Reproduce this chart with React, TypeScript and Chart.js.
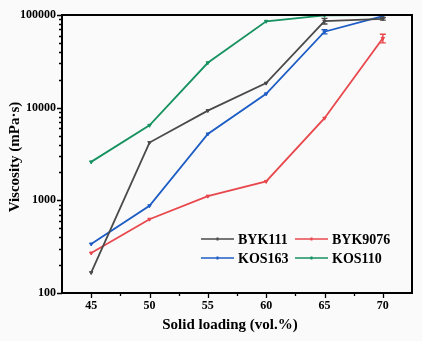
import React, { useEffect, useRef } from "react";
import { Chart, registerables } from "chart.js";

Chart.register(...registerables);

const loadings = [45, 50, 55, 60, 65, 70];
const byk111 = [166, 4200, 9300, 18400, 86000, 91000];
const byk9076 = [270, 625, 1110, 1600, 7700, 56000];
const kos163 = [338, 875, 5200, 14100, 66000, 97000];
const kos110 = [2600, 6450, 30500, 85500, 99000, 100000];
const byk111Err = [0, 0, 0, 0, 6000, 3000];
const byk9076Err = [0, 0, 0, 0, 0, 6000];
const kos163Err = [0, 0, 0, 0, 3500, 0];
const kos110Err = [0, 0, 0, 0, 0, 0];
const seriesLabels = ["BYK111", "BYK9076", "KOS163", "KOS110"];
const seriesColors = ["#4a4a4a", "#e8474c", "#1c5cc4", "#169160"];
const xTicks = [45, 50, 55, 60, 65, 70];
const xMinor = [47.5, 52.5, 57.5, 62.5, 67.5];
const yMajor = [100, 1000, 10000, 100000];
const xTitle = "Solid loading (vol.%)";
const yTitle = "Viscosity (mPa·s)";

const FONT = "'Liberation Serif', 'Times New Roman', serif";

const bgPlugin = {
  id: "bg",
  beforeDraw(chart: any) {
    const { ctx, width, height } = chart;
    ctx.save();
    ctx.fillStyle = "#fafafa";
    ctx.fillRect(0, 0, width, height);
    ctx.restore();
  },
};

const decoPlugin = {
  id: "deco",
  afterDatasetsDraw(chart: any) {
    const { ctx } = chart;
    const errs = [byk111Err, byk9076Err, kos163Err, kos110Err];
    const y = chart.scales.y;
    const x = chart.scales.x;
    chart.data.datasets.forEach((ds: any, i: number) => {
      ctx.save();
      ctx.strokeStyle = seriesColors[i];
      ctx.lineWidth = 1.4;
      ds.data.forEach((pt: any, j: number) => {
        const v = pt.y;
        const e = errs[i][j];
        const px = x.getPixelForValue(loadings[j]);
        const y1 = y.getPixelForValue(v + e);
        const y2 = y.getPixelForValue(Math.max(v - e, 1));
        if (Math.abs(y2 - y1) < 2) return;
        ctx.beginPath();
        ctx.moveTo(px, y1);
        ctx.lineTo(px, y2);
        ctx.moveTo(px - 3, y1);
        ctx.lineTo(px + 3, y1);
        ctx.moveTo(px - 3, y2);
        ctx.lineTo(px + 3, y2);
        ctx.stroke();
      });
      ctx.restore();
    });
  },
  afterDraw(chart: any) {
    const { ctx, chartArea } = chart;
    const { left, right, top, bottom } = chartArea;
    const x = chart.scales.x;
    const y = chart.scales.y;
    ctx.save();
    ctx.strokeStyle = "#000";
    ctx.lineWidth = 2;
    ctx.strokeRect(left, top, right - left, bottom - top);
    ctx.lineWidth = 1.3;
    ctx.beginPath();
    for (let e = 0; e < yMajor.length; e++) {
      const base = yMajor[e];
      const py = Math.round(y.getPixelForValue(base)) + 0.5;
      ctx.moveTo(left, py);
      ctx.lineTo(left - 5, py);
      if (e < yMajor.length - 1) {
        for (let k = 2; k <= 9; k++) {
          const my = Math.round(y.getPixelForValue(base * k)) + 0.5;
          ctx.moveTo(left, my);
          ctx.lineTo(left - 3, my);
        }
      }
    }
    xTicks.forEach((v) => {
      const px = Math.round(x.getPixelForValue(v)) + 0.5;
      ctx.moveTo(px, bottom);
      ctx.lineTo(px, bottom + 5);
    });
    xMinor.forEach((v) => {
      const px = Math.round(x.getPixelForValue(v)) + 0.5;
      ctx.moveTo(px, bottom);
      ctx.lineTo(px, bottom + 3);
    });
    ctx.stroke();

    ctx.fillStyle = "#000";
    ctx.font = `bold 15px ${FONT}`;
    ctx.textAlign = "center";
    ctx.textBaseline = "middle";
    ctx.fillText(xTitle, 230, 325);
    ctx.save();
    ctx.translate(15, 157);
    ctx.rotate(-Math.PI / 2);
    ctx.fillText(yTitle, 0, 0);
    ctx.restore();

    ctx.font = `bold 14px ${FONT}`;
    ctx.textAlign = "left";
    const cols = [201, 295];
    const rows = [239, 258];
    chart.data.datasets.forEach((ds: any, i: number) => {
      const cx = cols[i % 2];
      const cy = rows[Math.floor(i / 2)];
      ctx.strokeStyle = seriesColors[i];
      ctx.lineWidth = 1.6;
      ctx.beginPath();
      ctx.moveTo(cx, cy);
      ctx.lineTo(cx + 33, cy);
      ctx.stroke();
      ctx.fillStyle = seriesColors[i];
      ctx.fillRect(cx + 15.5, cy - 1.5, 2, 3);
      ctx.fillStyle = "#000";
      ctx.fillText(ds.label, cx + 37, cy + 1);
    });
    ctx.restore();
  },
};

export default function App() {
  const ref = useRef<HTMLCanvasElement>(null);
  useEffect(() => {
    if (!ref.current) return;
    const seriesData = [byk111, byk9076, kos163, kos110];
    const chart = new Chart(ref.current, {
      type: "line",
      data: {
        datasets: seriesData.map((arr, i) => ({
          label: seriesLabels[i],
          data: arr.map((v, j) => ({ x: loadings[j], y: v })) as any,
          borderColor: seriesColors[i],
          backgroundColor: seriesColors[i],
          borderWidth: 1.8,
          pointStyle: "triangle",
          pointRotation: 180,
          pointRadius: 2,
          pointBorderWidth: 1,
          tension: 0,
        })),
      },
      options: {
        animation: false,
        responsive: false,
        events: [],
        layout: { padding: { top: 15, right: 10, left: 0, bottom: 0 } },
        plugins: { legend: { display: false }, tooltip: { enabled: false } },
        scales: {
          x: {
            type: "linear",
            min: 42.5,
            max: 72.5,
            grid: { display: false, drawTicks: true, tickLength: 5 },
            border: { display: false },
            afterBuildTicks: (s: any) => {
              s.ticks = xTicks.map((v) => ({ value: v }));
            },
            afterFit: (s: any) => {
              s.height = 48;
            },
            ticks: {
              padding: 1,
              color: "#000",
              font: { family: FONT, size: 12, weight: "bold" },
              maxRotation: 0,
              callback: (v: any) => String(v),
            },
          },
          y: {
            type: "logarithmic",
            min: 100,
            max: 100000,
            grid: { display: false, drawTicks: true, tickLength: 5 },
            border: { display: false },
            afterBuildTicks: (s: any) => {
              s.ticks = yMajor.map((v) => ({ value: v }));
            },
            afterFit: (s: any) => {
              s.width = 62;
            },
            ticks: {
              padding: 1,
              color: "#000",
              font: { family: FONT, size: 12, weight: "bold" },
              callback: (v: any) => String(v),
            },
          },
        },
      },
      plugins: [bgPlugin, decoPlugin],
    });
    return () => chart.destroy();
  }, []);
  return (
    <div style={{ position: "fixed", left: 0, top: 0, width: 422, height: 341 }}>
      <canvas ref={ref} width={422} height={341} style={{ display: "block" }} />
    </div>
  );
}
